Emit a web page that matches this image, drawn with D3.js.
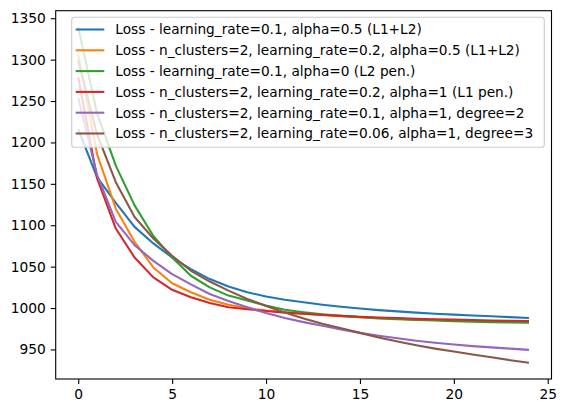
<!DOCTYPE html>
<html>
<head>
<meta charset="utf-8">
<script src="https://cdn.jsdelivr.net/npm/d3@7/dist/d3.min.js"></script>
<style>
html, body { margin: 0; padding: 0; background: #fff; }
svg { display: block; }
text { font-family: "DejaVu Sans", sans-serif; }
</style>
</head>
<body>
<div id="chart"></div>
<script>
const epochs = d3.range(0, 25);
const seriesNames = [
  "Loss - learning_rate=0.1, alpha=0.5 (L1+L2)",
  "Loss - n_clusters=2, learning_rate=0.2, alpha=0.5 (L1+L2)",
  "Loss - learning_rate=0.1, alpha=0 (L2 pen.)",
  "Loss - n_clusters=2, learning_rate=0.2, alpha=1 (L1 pen.)",
  "Loss - n_clusters=2, learning_rate=0.1, alpha=1, degree=2",
  "Loss - n_clusters=2, learning_rate=0.06, alpha=1, degree=3"
];
const colors = ["#1f77b4", "#ff7f0e", "#2ca02c", "#d62728", "#9467bd", "#8c564b"];
const blue   = [1216, 1158, 1127, 1098, 1078, 1061, 1047, 1035, 1026, 1019, 1014, 1010, 1007, 1004, 1001.5, 999.5, 997.5, 996, 994.5, 993, 992, 991, 990, 989, 988];
const orange = [1306, 1186, 1120, 1080, 1049, 1030, 1019, 1010, 1004, 1000, 997, 995, 993, 991.5, 990, 989, 988, 987, 986, 985.5, 985, 984.5, 984, 983.5, 983];
const green  = [1339, 1235, 1172, 1124, 1087, 1061, 1039, 1025, 1015, 1009, 1003, 998, 995, 992.5, 990.5, 989, 987.5, 986.5, 985.5, 985, 984, 983.5, 983, 982.7, 982.3];
const red    = [1279, 1157, 1096, 1061, 1037, 1022, 1013, 1006, 1001, 998.5, 996.5, 994.5, 993, 991.5, 990.5, 989.5, 988.5, 988, 987, 986.5, 986, 985.5, 985, 984.7, 984.4];
const purple = [1254, 1161, 1104, 1076, 1057, 1041, 1028.5, 1017, 1008.5, 1001, 994, 988, 983, 978.5, 974, 970, 966.5, 963.5, 960.5, 958, 956, 954, 952.5, 951, 949.5];
const brown  = [1299, 1210, 1152, 1110, 1084, 1063, 1045, 1032, 1021, 1011, 1002.5, 994.5, 987.5, 981, 975.5, 970, 964.5, 959.5, 955, 951, 947.5, 944, 940.5, 937, 934];
const seriesValues = [blue, orange, green, red, purple, brown];
const xTicks = [0, 5, 10, 15, 20, 25];
const yTicks = [950, 1000, 1050, 1100, 1150, 1200, 1250, 1300, 1350];

const W = 565, H = 413;
const mLeft = 55.7, mRight = 551.5, mTop = 10.7, mBottom = 379;

const svg = d3.select("#chart").append("svg").attr("width", W).attr("height", H);

const x = d3.scaleLinear().domain([-1.2, 25.2]).range([mLeft, mRight]);
const y = d3.scaleLinear().domain([914.3, 1359.1]).range([mBottom, mTop]);

const line = d3.line().x((d, i) => x(epochs[i])).y(d => y(d));

const plot = svg.append("g");
seriesValues.forEach((vals, k) => {
  plot.append("path")
    .datum(vals)
    .attr("fill", "none")
    .attr("stroke", colors[k])
    .attr("stroke-width", 2.08)
    .attr("stroke-linejoin", "round")
    .attr("stroke-linecap", "butt")
    .attr("d", line);
});

// axes
const xAxis = d3.axisBottom(x).tickValues(xTicks).tickSize(4.9).tickPadding(4.9).tickFormat(d3.format("d"));
const yAxis = d3.axisLeft(y).tickValues(yTicks).tickSize(4.9).tickPadding(4.9).tickFormat(d3.format("d"));

const gx = svg.append("g").attr("transform", `translate(0,${mBottom})`).call(xAxis);
const gy = svg.append("g").attr("transform", `translate(${mLeft},0)`).call(yAxis);
[gx, gy].forEach(g => {
  g.select(".domain").remove();
  g.selectAll(".tick line").attr("stroke", "#000").attr("stroke-width", 1.1);
  g.selectAll(".tick text").attr("fill", "#000").style("font-size", "13.8px").style("font-family", "DejaVu Sans, sans-serif");
});

// spines
svg.append("rect")
  .attr("x", mLeft).attr("y", mTop)
  .attr("width", mRight - mLeft).attr("height", mBottom - mTop)
  .attr("fill", "none").attr("stroke", "#000").attr("stroke-width", 1.1);

// legend
const lg = svg.append("g");
const lx = 71.7, ly = 17.3, lw = 544.3 - 71.7, lh = 147.3 - 17.3;
lg.append("rect")
  .attr("x", lx).attr("y", ly).attr("width", lw).attr("height", lh)
  .attr("rx", 2.8).attr("ry", 2.8)
  .attr("fill", "rgba(255,255,255,0.8)")
  .attr("stroke", "#cccccc").attr("stroke-width", 1.1);
seriesNames.forEach((name, k) => {
  const cy = 29.5 + k * 20.8;
  lg.append("line")
    .attr("x1", 75.7).attr("x2", 104.3)
    .attr("y1", cy).attr("y2", cy)
    .attr("stroke", colors[k]).attr("stroke-width", 2.08);
  lg.append("text")
    .attr("x", 115.3).attr("y", cy)
    .attr("dy", "0.36em")
    .style("font-size", "13.7px")
    .attr("fill", "#000")
    .text(name);
});
</script>
</body>
</html>
